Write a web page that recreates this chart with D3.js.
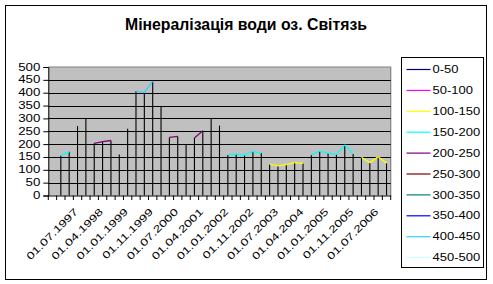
<!DOCTYPE html>
<html><head><meta charset="utf-8">
<script src="https://cdn.jsdelivr.net/npm/d3@7/dist/d3.min.js"></script>
<style>html,body{margin:0;padding:0;background:#fff;}svg{display:block;}text{font-family:"Liberation Sans",Arial,sans-serif;}</style>
</head><body>
<script>
const title = "Мінералізація води оз. Світязь";
const categories = ["01.10.1996","01.01.1997","01.04.1997","01.07.1997","01.10.1997","01.01.1998","01.04.1998","01.07.1998","01.10.1998","01.01.1999","01.04.1999","01.07.1999","01.11.1999","01.01.2000","01.04.2000","01.07.2000","01.10.2000","01.01.2001","01.04.2001","01.07.2001","01.10.2001","01.01.2002","01.04.2002","01.07.2002","01.11.2002","01.01.2003","01.04.2003","01.07.2003","01.10.2003","01.01.2004","01.04.2004","01.07.2004","01.10.2004","01.01.2005","01.04.2005","01.07.2005","01.11.2005","01.01.2006","01.04.2006","01.07.2006","01.10.2006"];
const values = [null,155,170,270,300,203,210,214,160,260,406,400,445,347,226,230,200,224,252,300,272,158,161,157,172,165,122,115,120,128,125,158,173,165,160,197,161,149,128,151,126];
const linkedRuns = [[1,2],[5,7],[10,12],[14,15],[17,18],[21,25],[26,30],[31,36],[37,40]];
const yTicks = [0,50,100,150,200,250,300,350,400,450,500];
const bands = ["0-50","50-100","100-150","150-200","200-250","250-300","300-350","350-400","400-450","450-500"];
const bandColors = ["#000080","#FF00FF","#FFFF00","#00FFFF","#800080","#800000","#008080","#0000FF","#33CCFF","#CCFFFF"];

const W = 493, H = 284;
const svg = d3.select("body").append("svg").attr("width", W).attr("height", H);
svg.append("rect").attr("x",5.5).attr("y",5.5).attr("width",481).attr("height",274)
  .attr("fill","#fff").attr("stroke","#000").attr("stroke-width",1);

svg.append("text").attr("x",246).attr("y",30).attr("text-anchor","middle")
  .attr("font-size",16).attr("font-weight","bold")
  .attr("textLength",242).attr("lengthAdjust","spacingAndGlyphs").text(title);

const x = d3.scaleBand().domain(categories).range([48.3, 390.7]).padding(0);
const y = d3.scaleLinear().domain([0,500]).range([195.5, 67]);

const g = svg.append("g");
// plot background
g.append("rect").attr("x",x.range()[0]).attr("y",y(500)).attr("width",x.range()[1]-x.range()[0]).attr("height",y(0)-y(500))
  .attr("fill","#C0C0C0");
// top & right border (gray)
g.append("path").attr("d",`M${x.range()[0]},${y(500)}H${x.range()[1]}V${y(0)}`)
  .attr("fill","none").attr("stroke","#808080").attr("stroke-width",1.2);
// gridlines
g.selectAll("line.grid").data(yTicks.filter(t=>t>0 && t<500)).enter().append("line")
  .attr("x1",x.range()[0]).attr("x2",x.range()[1]).attr("y1",d=>Math.round(y(d))+0.5).attr("y2",d=>Math.round(y(d))+0.5)
  .attr("stroke","#000").attr("stroke-width",1);

// y axis
const yAxis = d3.axisLeft(y).tickValues(yTicks).tickSize(5).tickFormat(d=>d);
const ya = svg.append("g").attr("transform",`translate(${x.range()[0]},0)`).call(yAxis);
ya.select(".domain").attr("stroke","#000");
ya.selectAll(".tick line").attr("stroke","#000");
ya.selectAll(".tick text").remove();
ya.selectAll(".tick").append("text")
  .attr("text-anchor","end").attr("font-size",10).attr("fill","#000")
  .attr("transform","translate(-8,3) scale(1.33,1)")
  .text(d=>d);

// x axis
const xAxis = d3.axisBottom(x).tickSize(0).tickFormat("");
const xa = svg.append("g").attr("transform",`translate(0,${y(0)})`).call(xAxis);
xa.select(".domain").attr("stroke","#000");
const edges = d3.range(categories.length+1).map(i=>x.range()[0]+i*x.step());
xa.selectAll("line.edge").data(edges).enter().append("line")
  .attr("x1",d=>d).attr("x2",d=>d).attr("y1",0).attr("y2",4.5).attr("stroke","#000");
xa.selectAll("text.lbl").data(categories.filter((c,i)=>i%3===0 && i>0)).enter().append("text")
  .attr("text-anchor","end").attr("font-size",10).attr("fill","#000")
  .attr("transform",d=>`translate(${x(d)+x.bandwidth()/2+1},${17}) rotate(-45) scale(1.36,1)`)
  .text(d=>d);

// vertical value lines
const pts = categories.map((c,i)=>({c, v: values[i], i}));
g.selectAll("line.v").data(pts.filter(p=>p.v!=null)).enter().append("line")
  .attr("x1",p=>x(p.c)+x.bandwidth()/2).attr("x2",p=>x(p.c)+x.bandwidth()/2)
  .attr("y1",y(0)).attr("y2",p=>y(p.v)).attr("stroke","#000").attr("stroke-width",1.1);

// top colored segments
const segs = [];
linkedRuns.forEach(([a,b])=>{ for(let i=a;i<b;i++) segs.push([i,i+1]); });
const bandColor = v => bandColors[Math.min(bands.length-1, Math.floor(v/50))];
g.selectAll("line.s").data(segs).enter().append("line")
  .attr("x1",s=>x(categories[s[0]])+x.bandwidth()/2).attr("y1",s=>y(values[s[0]]))
  .attr("x2",s=>x(categories[s[1]])+x.bandwidth()/2).attr("y2",s=>y(values[s[1]]))
  .attr("stroke",s=>bandColor((values[s[0]]+values[s[1]])/2)).attr("stroke-width",1.3);

// legend
const lg = svg.append("g");
lg.append("rect").attr("x",401.5).attr("y",57.5).attr("width",82).attr("height",210)
  .attr("fill","#fff").attr("stroke","#000").attr("stroke-width",1);
const row = lg.selectAll("g.row").data(bands).enter().append("g")
  .attr("transform",(d,i)=>`translate(0,${69.5+i*20.9})`);
row.append("line").attr("x1",406.5).attr("x2",430.5).attr("y1",0).attr("y2",0)
  .attr("stroke",(d,i)=>bandColors[i]).attr("stroke-width",1.2);
row.append("text").attr("font-size",10).attr("fill","#000")
  .attr("transform","translate(432.5,3.6) scale(1.3,1)").text(d=>d);
</script>
</body></html>
